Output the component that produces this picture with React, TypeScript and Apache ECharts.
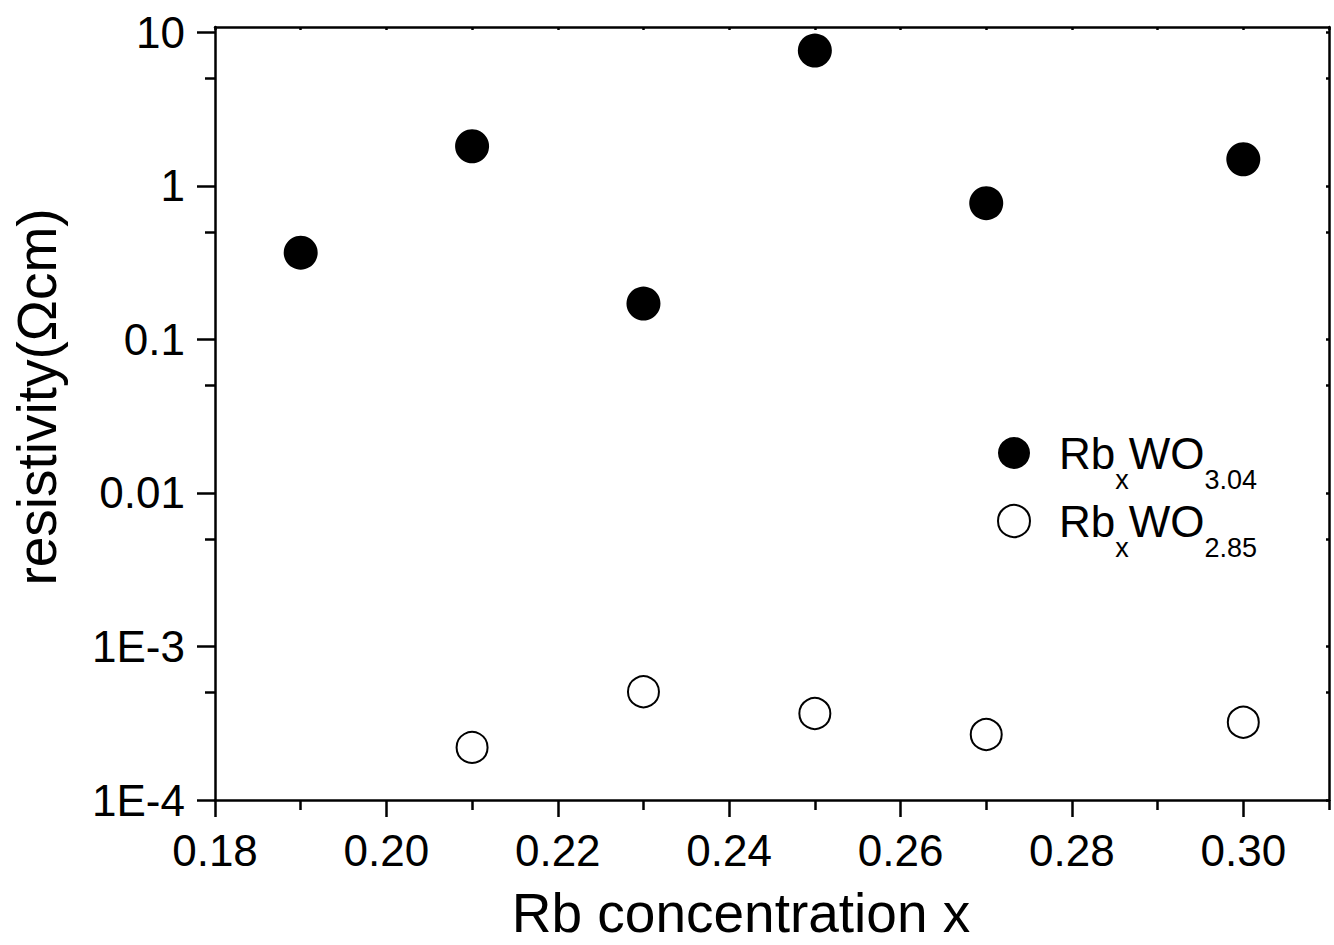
import React, { useEffect, useRef } from "react";
import * as echarts from "echarts";

const FONT = "'Liberation Sans', Arial, Helvetica, sans-serif";

// x axis (Rb concentration)
const xMin = 0.18;
const xMax = 0.31;
const xMajorTicks = [0.18, 0.2, 0.22, 0.24, 0.26, 0.28, 0.3];
const xMinorTicks = [0.19, 0.21, 0.23, 0.25, 0.27, 0.29, 0.31];
const xTopTicks = [0.18, 0.19, 0.2, 0.21, 0.22, 0.23, 0.24, 0.25, 0.26, 0.27, 0.28, 0.29, 0.3, 0.31];

// y axis (resistivity, log)
const yMin = 1e-4;
const yMax = 10.82;
const yMajorTicks = [1e-4, 1e-3, 0.01, 0.1, 1, 10];
const yTickLabels = ["1E-4", "1E-3", "0.01", "0.1", "1", "10"];
const yMinorTicks = [5e-4, 5e-3, 0.05, 0.5, 5];

// series
const seriesNames = ["RbxWO3.04", "RbxWO2.85"];
const xFilled = [0.19, 0.21, 0.23, 0.25, 0.27, 0.3];
const yFilled = [0.367, 1.81, 0.171, 7.6, 0.771, 1.49];
const xOpen = [0.21, 0.23, 0.25, 0.27, 0.3];
const yOpen = [2.2e-4, 5.07e-4, 3.66e-4, 2.67e-4, 3.21e-4];
const legendSubs = ["3.04", "2.85"];

const LW = 2.5;

function yLabel(v: number): string {
  for (let i = 0; i < yMajorTicks.length; i++) {
    if (Math.abs(Math.log10(v) - Math.log10(yMajorTicks[i])) < 1e-6) return yTickLabels[i];
  }
  return "";
}

export default function App() {
  const ref = useRef<HTMLDivElement>(null);
  useEffect(() => {
    const chart = echarts.init(ref.current!, null, { renderer: "svg" });
    const lineStyle = { color: "#000", width: LW };
    const option: any = {
      animation: false,
      backgroundColor: "#fff",
      textStyle: { fontFamily: FONT, color: "#000" },
      grid: { left: 215, right: 5, top: 27, bottom: 142, containLabel: false },
      legend: {
        orient: "vertical",
        left: 997,
        top: 431,
        padding: 0,
        itemWidth: 32,
        itemHeight: 32,
        itemGap: 6,
        selectedMode: false,
        icon: "circle",
        data: [
          { name: seriesNames[0], itemStyle: { color: "#000", borderWidth: 0 } },
          { name: seriesNames[1], itemStyle: { color: "#fff", borderColor: "#000", borderWidth: 2 } },
        ],
        formatter: (name: string) => {
          const i = seriesNames.indexOf(name);
          return `{a0|Rb}{s|x}{a|WO}{s|${legendSubs[i]}}`;
        },
        textStyle: {
          fontFamily: FONT,
          color: "#000",
          rich: {
            a0: { fontFamily: FONT, fontSize: 44, lineHeight: 44, verticalAlign: "middle", padding: [0, 0, 0, 24], color: "#000" },
            a: { fontFamily: FONT, fontSize: 44, lineHeight: 44, verticalAlign: "middle", color: "#000" },
            s: { fontFamily: FONT, fontSize: 27, lineHeight: 1, verticalAlign: "top", padding: [35, 0, 0, 0], color: "#000" },
          },
        },
      },
      xAxis: [
        {
          type: "value",
          position: "bottom",
          min: xMin,
          max: xMax,
          name: "Rb concentration x",
          nameLocation: "middle",
          nameGap: 85,
          nameTextStyle: { fontFamily: FONT, fontSize: 55, color: "#000", padding: [0, 62, 0, 0] },
          axisLine: { show: true, onZero: false, lineStyle },
          axisTick: { show: true, inside: false, length: 17, lineStyle, customValues: xMajorTicks },
          axisLabel: {
            show: true,
            margin: 28,
            fontFamily: FONT,
            fontSize: 44,
            color: "#000",
            customValues: xMajorTicks,
            formatter: (v: number) => v.toFixed(2),
          },
          splitLine: { show: false },
        },
        {
          type: "value",
          position: "bottom",
          min: xMin,
          max: xMax,
          axisLine: { show: false, onZero: false },
          axisTick: { show: true, inside: false, length: 10, lineStyle, customValues: xMinorTicks },
          axisLabel: { show: false },
          splitLine: { show: false },
        },
        {
          type: "value",
          position: "top",
          min: xMin,
          max: xMax,
          axisLine: { show: true, onZero: false, lineStyle },
          axisTick: { show: true, inside: true, length: 3, lineStyle, customValues: xTopTicks },
          axisLabel: { show: false },
          splitLine: { show: false },
        },
      ],
      yAxis: [
        {
          type: "log",
          logBase: 10,
          position: "left",
          min: yMin,
          max: yMax,
          name: "resistivity(Ωcm)",
          nameLocation: "middle",
          nameGap: 151,
          nameTextStyle: { fontFamily: FONT, fontSize: 55, color: "#000", padding: [0, 0, 0, 33] },
          axisLine: { show: true, onZero: false, lineStyle },
          axisTick: { show: true, inside: false, length: 18, lineStyle, customValues: yMajorTicks },
          axisLabel: {
            show: true,
            margin: 30,
            fontFamily: FONT,
            fontSize: 44,
            color: "#000",
            customValues: yMajorTicks,
            formatter: (v: number) => yLabel(v),
          },
          splitLine: { show: false },
          minorTick: { show: false },
        },
        {
          type: "log",
          logBase: 10,
          position: "left",
          min: yMin,
          max: yMax,
          axisLine: { show: false, onZero: false },
          axisTick: { show: true, inside: false, length: 10, lineStyle, customValues: yMinorTicks },
          axisLabel: { show: false },
          splitLine: { show: false },
        },
        {
          type: "log",
          logBase: 10,
          position: "right",
          min: yMin,
          max: yMax,
          axisLine: { show: true, onZero: false, lineStyle },
          axisTick: { show: true, inside: true, length: 3, lineStyle, customValues: [...yMajorTicks, ...yMinorTicks] },
          axisLabel: { show: false },
          splitLine: { show: false },
        },
      ],
      series: [
        {
          name: seriesNames[0],
          type: "scatter",
          xAxisIndex: 0,
          yAxisIndex: 0,
          symbol: "circle",
          symbolSize: 34,
          itemStyle: { color: "#000", opacity: 1 },
          data: xFilled.map((x, i) => [x, yFilled[i]]),
        },
        {
          name: seriesNames[1],
          type: "scatter",
          xAxisIndex: 0,
          yAxisIndex: 0,
          symbol: "circle",
          symbolSize: 31,
          itemStyle: { color: "#fff", borderColor: "#000", borderWidth: 2, opacity: 1 },
          data: xOpen.map((x, i) => [x, yOpen[i]]),
        },
      ],
    };
    chart.setOption(option);
    return () => chart.dispose();
  }, []);
  return <div ref={ref} style={{ position: "absolute", left: 0, top: 0, width: 1334, height: 945 }} />;
}
